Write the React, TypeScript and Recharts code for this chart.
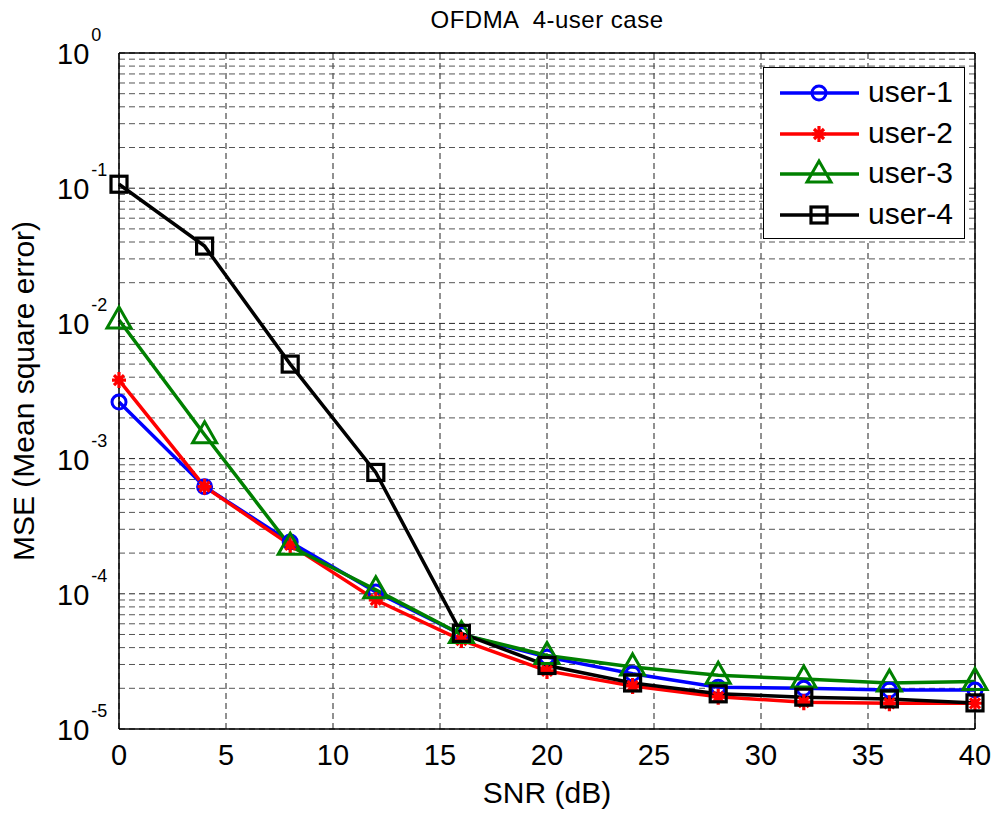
import { LineChart, Line, XAxis, YAxis, CartesianGrid, ReferenceLine, Label, Customized } from 'recharts'

/* ─── Data ─── */

const snr = [0, 4, 8, 12, 16, 20, 24, 28, 32, 36, 40]
const user1 = [2.62e-3, 6.2e-4, 2.42e-4, 1.03e-4, 5.0e-5, 3.4e-5, 2.56e-5, 2.04e-5, 2.0e-5, 1.94e-5, 1.94e-5]
const user2 = [3.81e-3, 6.2e-4, 2.3e-4, 9.0e-5, 4.55e-5, 2.69e-5, 2.08e-5, 1.73e-5, 1.58e-5, 1.55e-5, 1.55e-5]
const user3 = [1.06e-2, 1.5e-3, 2.25e-4, 1.07e-4, 5.0e-5, 3.5e-5, 2.88e-5, 2.5e-5, 2.34e-5, 2.19e-5, 2.25e-5]
const user4 = [0.107, 0.0373, 5.0e-3, 7.9e-4, 5.1e-5, 2.95e-5, 2.19e-5, 1.82e-5, 1.72e-5, 1.67e-5, 1.56e-5]

const xTicks = [0, 5, 10, 15, 20, 25, 30, 35, 40]
const yTicks = [1e-5, 1e-4, 1e-3, 1e-2, 1e-1, 1]
const decades = [-5, -4, -3, -2, -1]
const minorSteps = [2, 3, 4, 5, 6, 7, 8, 9]

const data = snr.map((s, i) => ({ snr: s, u1: user1[i], u2: user2[i], u3: user3[i], u4: user4[i] }))

const minorValues = decades.flatMap((d) => minorSteps.map((k) => k * Math.pow(10, d)))

const FONT = '"Liberation Sans", Arial, sans-serif'
const BLUE = '#0000ff'
const RED = '#ff0000'
const GREEN = '#008000'
const BLACK = '#000000'

/* ─── Markers ─── */

function Marker({ kind, cx, cy }: { kind: string; cx: number; cy: number }) {
  if (kind === 'circle')
    return <circle cx={cx} cy={cy} r={7} fill="none" stroke={BLUE} strokeWidth={3} />
  if (kind === 'star')
    return (
      <path
        d={`M${cx - 7},${cy}L${cx + 7},${cy}M${cx},${cy - 8}L${cx},${cy + 8}M${cx - 5},${cy - 5}L${cx + 5},${cy + 5}M${cx - 5},${cy + 5}L${cx + 5},${cy - 5}`}
        stroke={RED}
        strokeWidth={3.2}
      />
    )
  if (kind === 'triangle')
    return (
      <path
        d={`M${cx},${cy - 13}L${cx + 12},${cy + 8}L${cx - 12},${cy + 8}Z`}
        fill="none"
        stroke={GREEN}
        strokeWidth={3}
      />
    )
  return <rect x={cx - 8} y={cy - 8} width={16} height={16} fill="none" stroke={BLACK} strokeWidth={3.2} />
}

const makeDot = (kind: string) => (props: any) => (
  <g key={`${kind}-${props.index}`}>
    <Marker kind={kind} cx={props.cx} cy={props.cy} />
  </g>
)

/* ─── Ticks ─── */

function YTick({ x, y, payload }: any) {
  const e = Math.round(Math.log10(payload.value))
  return (
    <text x={x - 62} y={y + 11} fontSize={29} fontFamily={FONT} fill="#000">
      <tspan>10</tspan>
      <tspan dx={2} dy={-23} fontSize={18}>
        {e}
      </tspan>
    </text>
  )
}

const series = [
  { key: 'u1', name: 'user-1', color: BLUE, kind: 'circle' },
  { key: 'u2', name: 'user-2', color: RED, kind: 'star' },
  { key: 'u3', name: 'user-3', color: GREEN, kind: 'triangle' },
  { key: 'u4', name: 'user-4', color: BLACK, kind: 'square' },
]

/* ─── Legend ─── */

function LegendBox() {
  return (
    <div
      style={{
        position: 'absolute',
        left: 763,
        top: 67,
        width: 200,
        height: 170,
        border: '1.5px solid #000',
        background: '#fff',
        fontFamily: FONT,
        fontSize: 30,
      }}
    >
      {series.map((s, i) => (
        <div key={s.key} style={{ position: 'absolute', left: 0, top: 5 + i * 40.5, height: 40, width: 200 }}>
          <svg width={100} height={40} style={{ position: 'absolute', left: 0, top: 0 }}>
            <line x1={16} y1={20} x2={95} y2={20} stroke={s.color} strokeWidth={3.5} />
            <Marker kind={s.kind} cx={55} cy={20} />
          </svg>
          <span style={{ position: 'absolute', left: 104, top: 1, lineHeight: '36px' }}>{s.name}</span>
        </div>
      ))}
    </div>
  )
}

/* ─── Main ─── */

export default function App() {
  return (
    <div style={{ position: 'absolute', left: 0, top: 0, width: 996, height: 814, background: '#fff' }}>
      <LineChart width={996} height={814} data={data} margin={{ top: 53, right: 21, bottom: 0, left: 0 }}>
        <CartesianGrid strokeDasharray="6 4" stroke="#222" strokeWidth={1} />
        {minorValues.map((v) => (
          <ReferenceLine key={v} y={v} stroke="#555" strokeDasharray="6 4" strokeWidth={1} />
        ))}
        <ReferenceLine y={1} stroke="#000" strokeWidth={1.5} />
        <ReferenceLine x={40} stroke="#000" strokeWidth={1.5} />
        <XAxis
          dataKey="snr"
          type="number"
          domain={[0, 40]}
          ticks={xTicks}
          height={85}
          tickSize={0}
          tickMargin={15}
          tickLine={false}
          axisLine={{ stroke: '#000', strokeWidth: 1.5 }}
          tick={{ fill: '#000', fontSize: 29, fontFamily: FONT }}
        >
          <Label
            content={({ viewBox }: any) => (
              <text
                x={viewBox.x + viewBox.width / 2}
                y={viewBox.y + 74}
                textAnchor="middle"
                fontSize={30}
                fontFamily={FONT}
                fill="#000"
              >
                SNR (dB)
              </text>
            )}
          />
        </XAxis>
        <YAxis
          type="number"
          scale="log"
          domain={[1e-5, 1]}
          allowDataOverflow
          ticks={yTicks}
          width={119}
          tickSize={0}
          tickMargin={0}
          tickLine={false}
          axisLine={{ stroke: '#000', strokeWidth: 1.5 }}
          tick={<YTick />}
        >
          <Label
            content={({ viewBox }: any) => {
              const cx = viewBox.x + 34
              const cy = viewBox.y + viewBox.height / 2
              return (
                <text
                  x={cx}
                  y={cy}
                  transform={`rotate(-90 ${cx} ${cy})`}
                  textAnchor="middle"
                  fontSize={30}
                  fontFamily={FONT}
                  fill="#000"
                >
                  MSE (Mean square error)
                </text>
              )
            }}
          />
        </YAxis>
        {series.map((s) => (
          <Line
            key={s.key}
            dataKey={s.key}
            name={s.name}
            stroke={s.color}
            strokeWidth={3.5}
            dot={makeDot(s.kind)}
            activeDot={false}
            isAnimationActive={false}
          />
        ))}
        <Customized
          component={() => (
            <text
              x={547}
              y={28}
              textAnchor="middle"
              fontSize={24}
              letterSpacing={0.5}
              fontFamily={FONT}
              fill="#000"
              style={{ whiteSpace: 'pre' }}
            >
              OFDMA  4-user case
            </text>
          )}
        />
      </LineChart>
      <LegendBox />
    </div>
  )
}
